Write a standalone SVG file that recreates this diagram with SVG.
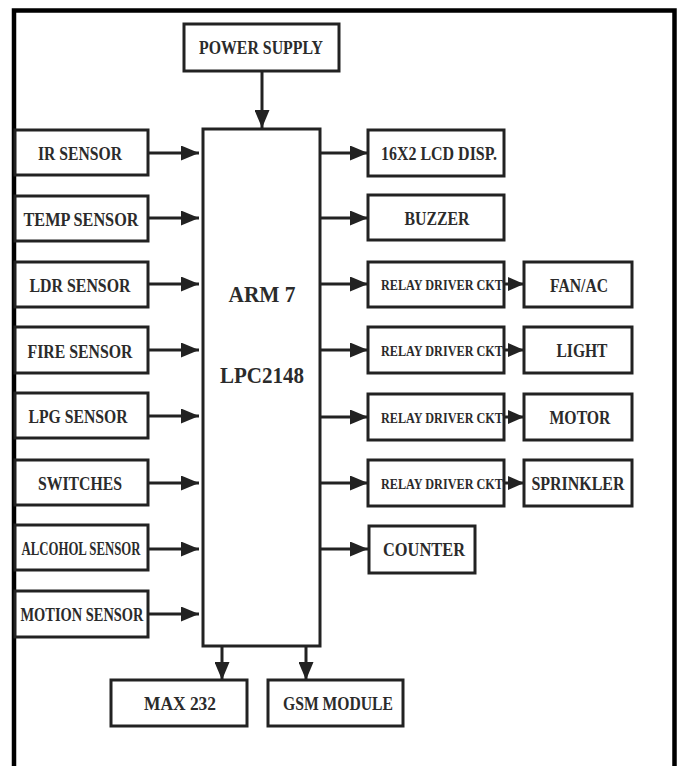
<svg xmlns="http://www.w3.org/2000/svg" width="678" height="766" viewBox="0 0 678 766">
<style>
.box{fill:#fff;stroke:#222;stroke-width:3}
.lbl{font-family:"Liberation Serif","Times New Roman",serif;font-weight:bold;font-size:18px;fill:#2b2b2b;text-anchor:middle}
.big{font-size:24px}
.rel{font-size:15px}
.con{stroke:#222;stroke-width:3;fill:none}
</style>
<defs>
<marker id="ah" markerUnits="userSpaceOnUse" markerWidth="18" markerHeight="15" refX="18" refY="7.5" orient="auto"><path d="M0,0 L18,7.5 L0,15 z" fill="#222"/></marker>
<marker id="ahs" markerUnits="userSpaceOnUse" markerWidth="16" markerHeight="14" refX="16" refY="7" orient="auto"><path d="M0,0 L16,7 L0,14 z" fill="#222"/></marker>
</defs>
<rect width="678" height="766" fill="#fff"/>
<path d="M14,766 V10.5 H674.5 V766" fill="none" stroke="#000" stroke-width="4.5"/>
<g id="connectors">
<line class="con" x1="262" y1="71" x2="262" y2="128" marker-end="url(#ah)"/>
<line class="con" x1="148" y1="153" x2="199" y2="153" marker-end="url(#ah)"/>
<line class="con" x1="148" y1="218" x2="199" y2="218" marker-end="url(#ah)"/>
<line class="con" x1="148" y1="284" x2="199" y2="284" marker-end="url(#ah)"/>
<line class="con" x1="148" y1="350" x2="199" y2="350" marker-end="url(#ah)"/>
<line class="con" x1="148" y1="416" x2="199" y2="416" marker-end="url(#ah)"/>
<line class="con" x1="148" y1="483" x2="199" y2="483" marker-end="url(#ah)"/>
<line class="con" x1="148" y1="549" x2="199" y2="549" marker-end="url(#ah)"/>
<line class="con" x1="148" y1="614" x2="199" y2="614" marker-end="url(#ah)"/>
<line class="con" x1="320" y1="153" x2="368" y2="153" marker-end="url(#ah)"/>
<line class="con" x1="320" y1="218" x2="368" y2="218" marker-end="url(#ah)"/>
<line class="con" x1="320" y1="284" x2="368" y2="284" marker-end="url(#ah)"/>
<line class="con" x1="320" y1="350" x2="368" y2="350" marker-end="url(#ah)"/>
<line class="con" x1="320" y1="417" x2="368" y2="417" marker-end="url(#ah)"/>
<line class="con" x1="320" y1="483" x2="368" y2="483" marker-end="url(#ah)"/>
<line class="con" x1="320" y1="549" x2="368" y2="549" marker-end="url(#ah)"/>
<line class="con" x1="504" y1="284" x2="524" y2="284" marker-end="url(#ahs)"/>
<line class="con" x1="504" y1="350" x2="524" y2="350" marker-end="url(#ahs)"/>
<line class="con" x1="504" y1="417" x2="524" y2="417" marker-end="url(#ahs)"/>
<line class="con" x1="504" y1="483" x2="524" y2="483" marker-end="url(#ahs)"/>
<line class="con" x1="222" y1="646" x2="222" y2="680" marker-end="url(#ah)"/>
<line class="con" x1="306" y1="646" x2="306" y2="680" marker-end="url(#ah)"/>
</g>
<g id="power"><rect class="box" x="184" y="24" width="155" height="47"/><text class="lbl" x="261" y="54" textLength="124" lengthAdjust="spacingAndGlyphs">POWER SUPPLY</text></g>
<g id="arm"><rect class="box" x="203" y="129" width="117" height="517"/><text class="lbl big" x="262" y="302" textLength="67" lengthAdjust="spacingAndGlyphs">ARM 7</text><text class="lbl big" x="262" y="383" textLength="84" lengthAdjust="spacingAndGlyphs">LPC2148</text></g>
<g id="ir"><rect class="box" x="15" y="130" width="133" height="45"/><text class="lbl" x="80" y="160" textLength="84" lengthAdjust="spacingAndGlyphs">IR SENSOR</text></g>
<g id="temp"><rect class="box" x="15" y="196" width="133" height="45"/><text class="lbl" x="81" y="226" textLength="115" lengthAdjust="spacingAndGlyphs">TEMP  SENSOR</text></g>
<g id="ldr"><rect class="box" x="15" y="262" width="133" height="45"/><text class="lbl" x="80" y="292" textLength="101" lengthAdjust="spacingAndGlyphs">LDR SENSOR</text></g>
<g id="fire"><rect class="box" x="15" y="327" width="133" height="46"/><text class="lbl" x="80" y="358" textLength="105" lengthAdjust="spacingAndGlyphs">FIRE SENSOR</text></g>
<g id="lpg"><rect class="box" x="15" y="393" width="133" height="45"/><text class="lbl" x="78" y="423" textLength="99" lengthAdjust="spacingAndGlyphs">LPG SENSOR</text></g>
<g id="switches"><rect class="box" x="15" y="460" width="133" height="45"/><text class="lbl" x="80" y="490" textLength="84" lengthAdjust="spacingAndGlyphs">SWITCHES</text></g>
<g id="alcohol"><rect class="box" x="15" y="525" width="133" height="45"/><text class="lbl" x="81" y="555" textLength="119" lengthAdjust="spacingAndGlyphs">ALCOHOL SENSOR</text></g>
<g id="motion"><rect class="box" x="15" y="591" width="133" height="46"/><text class="lbl" x="82" y="621" textLength="123" lengthAdjust="spacingAndGlyphs">MOTION SENSOR</text></g>
<g id="lcd"><rect class="box" x="368" y="130" width="136" height="46"/><text class="lbl" x="439" y="160" textLength="116" lengthAdjust="spacingAndGlyphs">16X2 LCD DISP.</text></g>
<g id="buzzer"><rect class="box" x="368" y="195" width="136" height="45"/><text class="lbl" x="437" y="225" textLength="65" lengthAdjust="spacingAndGlyphs">BUZZER</text></g>
<g id="relay1"><rect class="box" x="368" y="262" width="136" height="45"/><text class="lbl rel" x="442" y="290" textLength="122" lengthAdjust="spacingAndGlyphs">RELAY DRIVER CKT</text></g>
<g id="relay2"><rect class="box" x="368" y="327" width="136" height="46"/><text class="lbl rel" x="442" y="356" textLength="122" lengthAdjust="spacingAndGlyphs">RELAY DRIVER CKT</text></g>
<g id="relay3"><rect class="box" x="368" y="394" width="136" height="46"/><text class="lbl rel" x="442" y="423" textLength="122" lengthAdjust="spacingAndGlyphs">RELAY DRIVER CKT</text></g>
<g id="relay4"><rect class="box" x="368" y="460" width="136" height="46"/><text class="lbl rel" x="442" y="489" textLength="122" lengthAdjust="spacingAndGlyphs">RELAY DRIVER CKT</text></g>
<g id="fanac"><rect class="box" x="524" y="262" width="108" height="45"/><text class="lbl" x="579" y="292" textLength="58" lengthAdjust="spacingAndGlyphs">FAN/AC</text></g>
<g id="light"><rect class="box" x="524" y="327" width="108" height="46"/><text class="lbl" x="582" y="357" textLength="51" lengthAdjust="spacingAndGlyphs">LIGHT</text></g>
<g id="motor"><rect class="box" x="524" y="394" width="108" height="46"/><text class="lbl" x="580" y="424" textLength="61" lengthAdjust="spacingAndGlyphs">MOTOR</text></g>
<g id="sprinkler"><rect class="box" x="524" y="460" width="108" height="46"/><text class="lbl" x="578" y="490" textLength="93" lengthAdjust="spacingAndGlyphs">SPRINKLER</text></g>
<g id="counter"><rect class="box" x="369" y="526" width="106" height="47"/><text class="lbl" x="424" y="556" textLength="82" lengthAdjust="spacingAndGlyphs">COUNTER</text></g>
<g id="max232"><rect class="box" x="111" y="680" width="136" height="46"/><text class="lbl" x="180" y="710" textLength="72" lengthAdjust="spacingAndGlyphs">MAX 232</text></g>
<g id="gsm"><rect class="box" x="268" y="680" width="135" height="46"/><text class="lbl" x="338" y="710" textLength="110" lengthAdjust="spacingAndGlyphs">GSM MODULE</text></g>
</svg>
